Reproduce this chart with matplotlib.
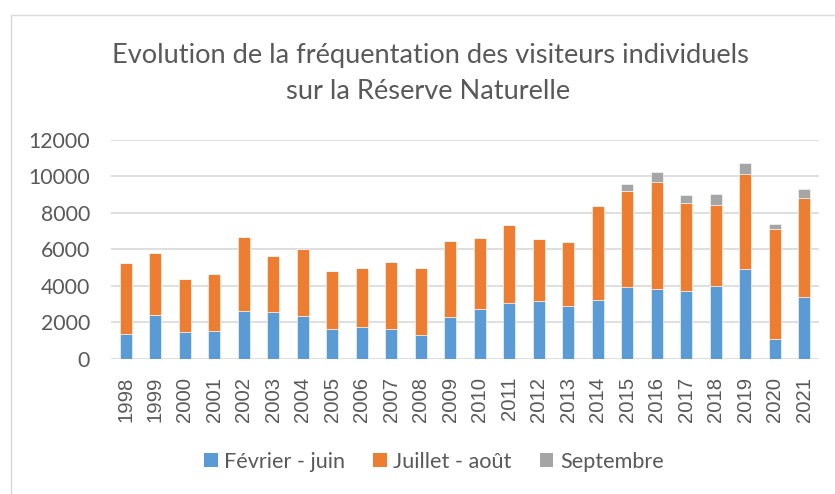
import matplotlib
matplotlib.use("Agg")
import matplotlib.pyplot as plt
from matplotlib.patches import Patch, Rectangle
import numpy as np

years = [str(y) for y in range(1998, 2022)]
fevrier_juin = [1370, 2410, 1480, 1520, 2600, 2580, 2320, 1650, 1720, 1610, 1320, 2290,
                2740, 3030, 3180, 2870, 3240, 3950, 3820, 3690, 4000, 4930, 1060, 3360]
juillet_aout = [3880, 3390, 2910, 3140, 4070, 3030, 3680, 3140, 3250, 3710, 3670, 4170,
                3880, 4300, 3380, 3550, 5140, 5250, 5900, 4830, 4460, 5200, 6070, 5470]
septembre = [0, 0, 0, 0, 0, 0, 0, 0, 0, 0, 0, 0,
             0, 0, 0, 0, 0, 380, 530, 440, 570, 620, 240, 490]
series_labels = ["Février - juin", "Juillet - août", "Septembre"]

colors = ["#5B9BD5", "#ED7D31", "#A5A5A5"]
text_color = "#595959"
grid_color = "#D9D9D9"
main_font = ["Lato", "DejaVu Sans"]

W, H = 835, 494
fig = plt.figure(figsize=(W / 100, H / 100), dpi=100)

# chart area frame
fig.patches.append(Rectangle((11 / W, -0.2), 1.2, 1 - 15 / H + 0.2,
                             transform=fig.transFigure, fill=False,
                             edgecolor=grid_color, linewidth=1.0, clip_on=False))

ax = fig.add_axes([111 / W, 1 - 358.7 / H, (819 - 111) / W, (358.7 - 140) / H])

x = np.arange(len(years))
width = 0.41
b1 = np.array(fevrier_juin)
b2 = np.array(juillet_aout)
b3 = np.array(septembre)
ax.bar(x, b1, width, color=colors[0], edgecolor="white", linewidth=0.4, zorder=3)
ax.bar(x, b2, width, bottom=b1, color=colors[1], edgecolor="white", linewidth=0.4, zorder=3)
ax.bar(x, b3, width, bottom=b1 + b2, color=colors[2], edgecolor="white", linewidth=0.4, zorder=3)

ax.set_xlim(-0.5, len(years) - 0.5)
ax.set_ylim(0, 12000)
ax.set_yticks(np.arange(0, 12001, 2000))
ax.yaxis.grid(True, color=grid_color, linewidth=1.2)
ax.set_axisbelow(True)
for s in ax.spines.values():
    s.set_visible(False)

ax.set_xticks(x)
ax.set_xticklabels(years, rotation=90, fontsize=14.6, color=text_color,
                   family=["Liberation Sans", "DejaVu Sans"], va="top")
ax.tick_params(axis="x", length=0, pad=13)
ax.tick_params(axis="y", length=0, pad=15, labelsize=15.3, labelcolor=text_color)
for lbl in ax.get_yticklabels():
    lbl.set_family(main_font)

fig.text(431 / W, 1 - 63.3 / H, "Evolution de la fréquentation des visiteurs individuels",
         ha="center", va="baseline", fontsize=19.6, color=text_color, family=main_font)
fig.text(428 / W, 1 - 99.3 / H, "sur la Réserve Naturelle",
         ha="center", va="baseline", fontsize=19.6, color=text_color, family=main_font)

handles = [Patch(facecolor=c, edgecolor="none") for c in colors]
fig.legend(handles, series_labels, loc="center", bbox_to_anchor=(434 / W, 1 - 462 / H),
           ncol=3, frameon=False, handlelength=0.62, handleheight=0.62,
           handletextpad=0.3, columnspacing=1.3, prop={"family": main_font, "size": 15.6},
           labelcolor=text_color)

fig.savefig("out.png", dpi=100)
